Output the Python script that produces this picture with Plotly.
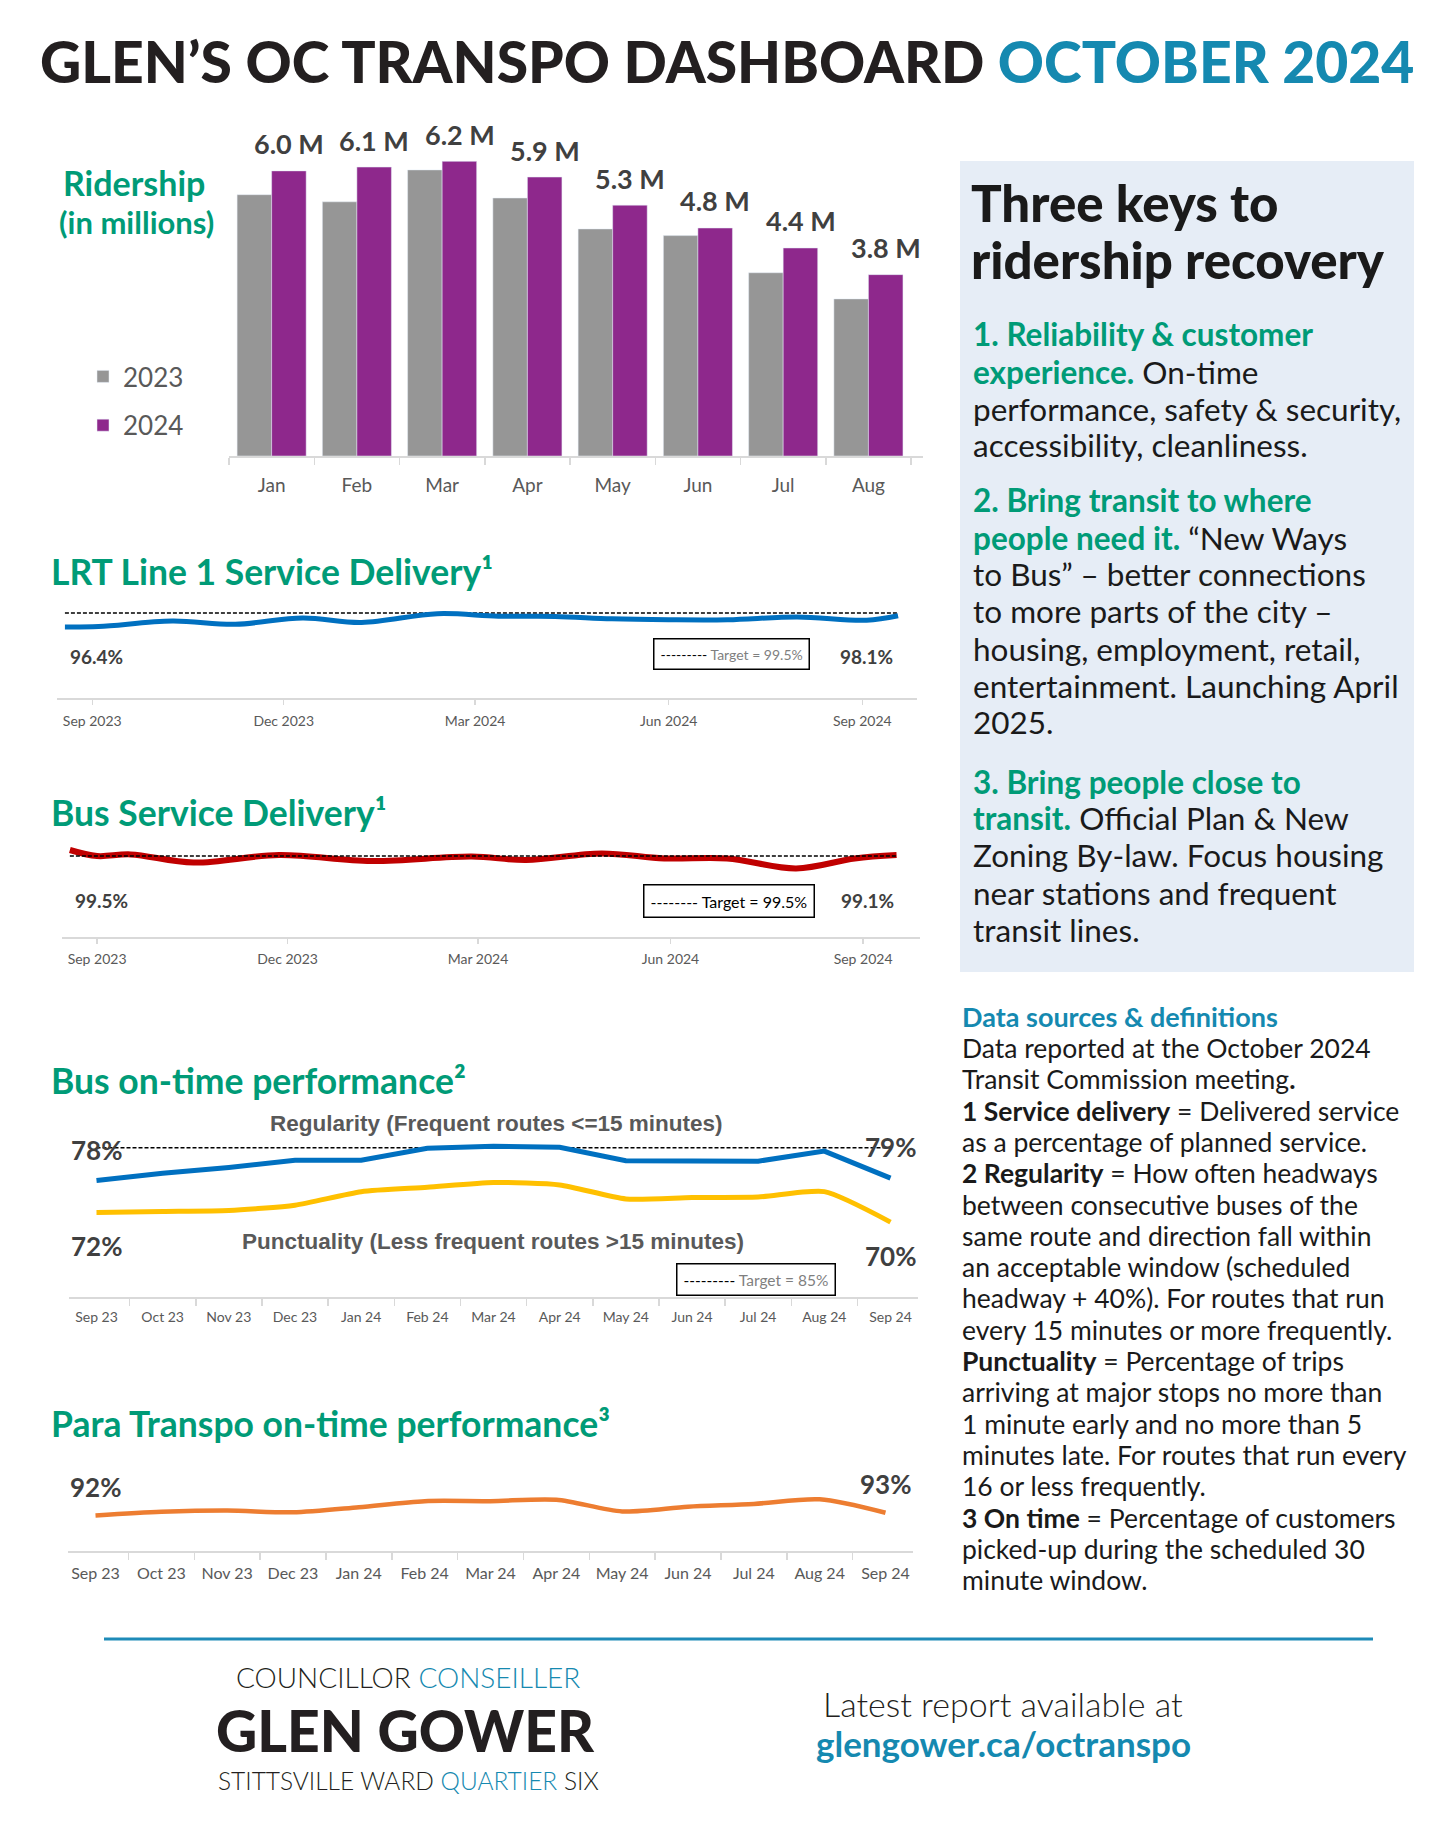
import plotly.graph_objects as go

W, H = 1456, 1832

# ---------------- data ----------------
ride_months = ["Jan", "Feb", "Mar", "Apr", "May", "Jun", "Jul", "Aug"]
ride_2023 = [5.49, 5.34, 6.01, 5.42, 4.77, 4.63, 3.85, 3.30]
ride_2024 = [5.99, 6.07, 6.19, 5.86, 5.27, 4.79, 4.37, 3.81]

service_tick_dates = ["2023-09-01", "2023-12-01", "2024-03-01", "2024-06-01", "2024-09-01"]
service_tick_text = ["Sep 2023", "Dec 2023", "Mar 2024", "Jun 2024", "Sep 2024"]

lrt_dates = ["2023-08-19", "2023-09-04", "2023-10-09", "2023-11-08", "2023-12-10",
             "2024-01-07", "2024-02-12", "2024-03-12", "2024-04-08", "2024-05-05",
             "2024-06-01", "2024-06-29", "2024-08-01", "2024-09-03", "2024-09-18"]
lrt_values = [96.4, 96.5, 97.7, 97.0, 98.4, 97.4, 99.35, 98.8, 98.75, 98.2,
              98.0, 98.0, 98.6, 97.9, 98.9]
lrt_target = 99.5
lrt_end_labels = ["96.4%", "98.1%"]

bus_dates = ["2023-08-19", "2023-09-01", "2023-09-17", "2023-10-17", "2023-11-27",
             "2024-01-10", "2024-02-27", "2024-03-24", "2024-04-29", "2024-05-29",
             "2024-06-28", "2024-07-31", "2024-08-28", "2024-09-17"]
bus_values = [99.8, 99.5, 99.58, 99.17, 99.55, 99.25, 99.47, 99.3, 99.63, 99.38,
              99.38, 98.88, 99.38, 99.55]
bus_target = 99.5
bus_end_labels = ["99.5%", "99.1%"]

otp_months = ["Sep 23", "Oct 23", "Nov 23", "Dec 23", "Jan 24", "Feb 24", "Mar 24",
              "Apr 24", "May 24", "Jun 24", "Jul 24", "Aug 24", "Sep 24"]
regularity = [78.2, 79.7, 80.9, 82.4, 82.4, 84.9, 85.3, 85.1, 82.3, 82.3, 82.2, 84.3, 78.7]
punctuality = [71.6, 71.8, 72.0, 73.1, 75.9, 76.8, 77.8, 77.3, 74.4, 74.7, 74.8, 75.9, 69.6]
otp_target = 85
para_otp = [92.0, 92.8, 93.1, 92.7, 93.8, 95.1, 95.1, 95.4, 92.9, 93.9, 94.5, 95.5, 92.6]

# ---------------- styles ----------------
BODY = "Lato"
GREEN = "#009B77"
BLUE_T = "#1589B0"
DARK = "#404040"
GREY_T = "#595959"
AXC = "#D9D9D9"

def X(p):
    return p / W

def Y(p):
    return 1 - p / H

fig = go.Figure()

def note(text, x, y, size, color="#1a1a1a", weight="normal", family=BODY,
         xanchor="left", yanchor="middle", **kw):
    fig.add_annotation(text=text, x=X(x), y=Y(y), xref="paper", yref="paper",
                       showarrow=False, xanchor=xanchor, yanchor=yanchor,
                       font=dict(family=family, size=size, color=color, weight=weight), **kw)

# ---------------- ridership bars ----------------
BARGAP = 0.19
fig.add_trace(go.Bar(x=ride_months, y=ride_2023, name="2023", marker_color="#969696",
                     legendgroup="a", xaxis="x", yaxis="y"))
fig.add_trace(go.Bar(x=ride_months, y=ride_2024, name="2024", marker_color="#8E288C",
                     legendgroup="b", xaxis="x", yaxis="y"))
r_left, r_right, r_base, r_top = 229, 923, 456, 110
cat_w = (r_right - r_left) / len(ride_months)
bar_off = cat_w * (1 - BARGAP) / 4
for m, v in zip(ride_months, ride_2024):
    fig.add_annotation(x=m, y=v, xref="x", yref="y", text=f"{v:.1f} M", showarrow=False,
                       xshift=bar_off, yshift=27, yanchor="middle",
                       font=dict(family=BODY, size=27, color=DARK, weight="bold"))

# ---------------- LRT ----------------
fig.add_trace(go.Scatter(x=lrt_dates, y=lrt_values, mode="lines", line=dict(color="#0070C0", width=5, shape="spline", smoothing=1.0),
                         showlegend=False, xaxis="x2", yaxis="y2"))
fig.add_shape(type="line", xref="x2", yref="y2", x0=lrt_dates[0], x1=lrt_dates[-1],
              y0=lrt_target, y1=lrt_target, line=dict(color="black", width=1.5, dash="4px,2px"), layer="below")

# ---------------- Bus service ----------------
fig.add_trace(go.Scatter(x=bus_dates, y=bus_values, mode="lines", line=dict(color="#C00000", width=6, shape="spline", smoothing=1.0),
                         showlegend=False, xaxis="x3", yaxis="y3"))
fig.add_shape(type="line", xref="x3", yref="y3", x0=bus_dates[0], x1=bus_dates[-1],
              y0=bus_target, y1=bus_target, line=dict(color="black", width=1.5, dash="4px,2px"), layer="above")

# ---------------- Bus OTP ----------------
fig.add_shape(type="line", xref="x4", yref="y4", x0=otp_months[0], x1=otp_months[-1],
              y0=otp_target, y1=otp_target, line=dict(color="black", width=1.5, dash="4px,2px"), layer="below")
fig.add_trace(go.Scatter(x=otp_months, y=regularity, mode="lines", line=dict(color="#0070C0", width=5),
                         showlegend=False, xaxis="x4", yaxis="y4"))
fig.add_trace(go.Scatter(x=otp_months, y=punctuality, mode="lines", line=dict(color="#FFC000", width=5, shape="spline", smoothing=0.6),
                         showlegend=False, xaxis="x4", yaxis="y4"))
for idx in (0, -1):
    fig.add_annotation(x=otp_months[idx], y=regularity[idx], xref="x4", yref="y4", text=f"{round(regularity[idx])}%",
                       showarrow=False, yshift=31, font=dict(family=BODY, size=26, color=DARK, weight="bold"))
    fig.add_annotation(x=otp_months[idx], y=punctuality[idx], xref="x4", yref="y4", text=f"{round(punctuality[idx])}%",
                       showarrow=False, yshift=-34, font=dict(family=BODY, size=26, color=DARK, weight="bold"))

# ---------------- Para Transpo ----------------
fig.add_trace(go.Scatter(x=otp_months, y=para_otp, mode="lines", line=dict(color="#ED7D31", width=4.5, shape="spline", smoothing=0.8),
                         showlegend=False, xaxis="x5", yaxis="y5"))
for idx in (0, -1):
    fig.add_annotation(x=otp_months[idx], y=para_otp[idx], xref="x5", yref="y5", text=f"{round(para_otp[idx])}%",
                       showarrow=False, yshift=29, font=dict(family=BODY, size=26, color=DARK, weight="bold"))

# ---------------- axes ----------------
def cat_axis(left, right, size, standoff):
    return dict(domain=[X(left), X(right)], type="category", showline=True, linecolor=AXC, linewidth=1.5,
                ticks="outside", tickson="boundaries", ticklen=7, tickcolor=AXC, tickwidth=1.5,
                showgrid=False, zeroline=False, ticklabelstandoff=standoff,
                tickfont=dict(family=BODY, size=size, color=GREY_T), fixedrange=True)

def date_axis(left, right, rng, standoff):
    return dict(domain=[X(left), X(right)], type="date", range=rng, showline=True, linecolor=AXC, linewidth=1.5,
                ticks="outside", ticklen=5, tickcolor=AXC, tickwidth=1.5, showgrid=False, zeroline=False,
                tickvals=service_tick_dates, ticktext=service_tick_text, ticklabelstandoff=standoff,
                tickfont=dict(family=BODY, size=14, color=GREY_T), fixedrange=True)

def val_axis(top, bottom, rng, anchor):
    return dict(domain=[Y(bottom), Y(top)], range=rng, visible=False, showgrid=False, zeroline=False,
                anchor=anchor, fixedrange=True)

fig.update_layout(
    xaxis=dict(cat_axis(r_left, r_right, 19, 12), anchor="y"),
    yaxis=val_axis(r_top, r_base, [0, (r_base - r_top) / 47.6], "x"),
    xaxis2=dict(date_axis(56.5, 917, ["2023-08-15", "2024-09-27"], 5), anchor="y2"),
    yaxis2=val_axis(600, 698, [80.61, 102.39], "x2"),
    xaxis3=dict(date_axis(61.5, 919.6, ["2023-08-15", "2024-09-28"], 4), anchor="y3"),
    yaxis3=val_axis(835, 937, [95.45, 100.55], "x3"),
    xaxis4=dict(cat_axis(69, 918, 14, 7), anchor="y4"),
    yaxis4=val_axis(1100, 1297, [54.1, 94.87], "x4"),
    xaxis5=dict(cat_axis(68, 913, 16, 7), anchor="y5"),
    yaxis5=val_axis(1480, 1551, [84.4, 99.64], "x5"),
)

# ---------------- texts ----------------
# page title
note(f"GLEN’S OC TRANSPO DASHBOARD <span style='color:{BLUE_T}'>OCTOBER 2024</span>", 727, 61, 57,
     color="#231F20", weight=900, family=BODY, xanchor="center")

# ridership labels
note("Ridership", 134, 182, 34, color=GREEN, weight="bold", xanchor="center")
note("(in millions)", 136, 222, 31, color=GREEN, weight="bold", xanchor="center")

# chart titles
note("LRT Line 1 Service Delivery¹", 49, 571, 35.5, color=GREEN, weight="bold")
note("Bus Service Delivery¹", 49, 813, 35.5, color=GREEN, weight="bold")
note("Bus on-time performance²", 49, 1080, 35.5, color=GREEN, weight="bold")
note("Para Transpo on-time performance³", 49, 1423, 35.5, color=GREEN, weight="bold")

# service delivery end labels
for lbl, d in zip(lrt_end_labels, (service_tick_dates[0], service_tick_dates[-1])):
    fig.add_annotation(x=d, y=Y(657), xref="x2", yref="paper", text=lbl, showarrow=False, xshift=4,
                       font=dict(family=BODY, size=19, color=DARK, weight="bold"))
for lbl, d in zip(bus_end_labels, (service_tick_dates[0], service_tick_dates[-1])):
    fig.add_annotation(x=d, y=Y(900), xref="x3", yref="paper", text=lbl, showarrow=False, xshift=4,
                       font=dict(family=BODY, size=19, color=DARK, weight="bold"))

# target boxes
def target_box(text, cx, cy, size, color, dashes):
    fig.add_annotation(text=f"<span style='color:black'>{dashes}</span> {text}", x=X(cx), y=Y(cy), xref="paper", yref="paper",
                       showarrow=False, xanchor="center", yanchor="middle", bordercolor="black", borderwidth=1.5,
                       borderpad=6, bgcolor="white", font=dict(family=BODY, size=size, color=color))

target_box(f"Target = {lrt_target}%", 731, 654, 14, "#7F7F7F", "---------")
target_box(f"Target = {bus_target}%", 729, 901, 16, "black", "--------")
target_box(f"Target = {otp_target}%", 756, 1279, 15.5, "#7F7F7F", "---------")

note("Regularity (Frequent routes <=15 minutes)", 496, 1123, 22.5, color=GREY_T, weight="bold",
     family="Liberation Sans, Arial", xanchor="center")
note("Punctuality (Less frequent routes >15 minutes)", 493, 1241, 22.5, color=GREY_T, weight="bold",
     family="Liberation Sans, Arial", xanchor="center")

# right panel
fig.add_shape(type="rect", xref="paper", yref="paper", x0=X(960), x1=X(1414), y0=Y(972), y1=Y(161),
              fillcolor="#E6EDF6", line=dict(width=0), layer="below")
note("Three keys to", 969, 202, 51, color="#1a1a1a", weight=900)
note("ridership recovery", 969, 259, 51, color="#1a1a1a", weight=900)

panel_lines = [
    ("1. Reliability & customer", "", 334),
    ("experience.", " On-time", 372),
    ("", "performance, safety & security,", 409),
    ("", "accessibility, cleanliness.", 445),
    ("2. Bring transit to where", "", 500),
    ("people need it.", " “New Ways", 538),
    ("", "to Bus” – better connections", 574),
    ("", "to more parts of the city –", 611),
    ("", "housing, employment, retail,", 649),
    ("", "entertainment. Launching April", 686),
    ("", "2025.", 722),
    ("3. Bring people close to", "", 782),
    ("transit.", " Official Plan & New", 818),
    ("", "Zoning By-law. Focus housing", 855),
    ("", "near stations and frequent", 893),
    ("", "transit lines.", 930),
]
for g, b, yy in panel_lines:
    t = (f"<b><span style='color:{GREEN}'>{g}</span></b>" if g else "") + b
    note(t, 971, yy, 31.5, color="#1a1a1a")

# definitions
note("Data sources & definitions", 960, 1017, 27, color=BLUE_T, weight="bold")
def_lines = [
    ("", "Data reported at the October 2024"),
    ("", "Transit Commission meeting<b>.</b>"),
    ("1 Service delivery", " = Delivered service"),
    ("", "as a percentage of planned service."),
    ("2 Regularity", " = How often headways"),
    ("", "between consecutive buses of the"),
    ("", "same route and direction fall within"),
    ("", "an acceptable window (scheduled"),
    ("", "headway + 40%). For routes that run"),
    ("", "every 15 minutes or more frequently."),
    ("Punctuality", " = Percentage of trips"),
    ("", "arriving at major stops no more than"),
    ("", "1 minute early and no more than 5"),
    ("", "minutes late. For routes that run every"),
    ("", "16 or less frequently."),
    ("3 On time", " = Percentage of customers"),
    ("", "picked-up during the scheduled 30"),
    ("", "minute window."),
]
for i, (bpart, rpart) in enumerate(def_lines):
    t = (f"<b>{bpart}</b>" if bpart else "") + rpart
    note(t, 960, 1048 + i * 31.3, 26.5, color="#1a1a1a")

# footer
fig.add_shape(type="line", xref="paper", yref="paper", x0=X(104), x1=X(1373), y0=Y(1639), y1=Y(1639),
              line=dict(color="#1E8BB8", width=3))
note(f"COUNCILLOR <span style='color:{BLUE_T}'>CONSEILLER</span>", 408, 1677, 28, color="#231F20", weight=300, xanchor="center")
note("GLEN GOWER", 405, 1730, 57, color="#231F20", weight=900, xanchor="center")
note(f"STITTSVILLE WARD <span style='color:{BLUE_T}'>QUARTIER</span> SIX", 408, 1780, 24.5, color="#231F20", weight=300, xanchor="center")
note("Latest report available at", 1003, 1703, 34, color="#231F20", weight=300, xanchor="center")
note("glengower.ca/octranspo", 1003, 1743, 35, color=BLUE_T, weight="bold", xanchor="center")

fig.update_layout(
    width=W, height=H, margin=dict(l=0, r=0, t=0, b=0),
    paper_bgcolor="white", plot_bgcolor="rgba(0,0,0,0)",
    barmode="group", bargap=BARGAP, bargroupgap=0,
    showlegend=True,
    legend=dict(x=X(83), y=Y(353), xanchor="left", yanchor="top", traceorder="grouped",
                tracegroupgap=12, itemwidth=30, bgcolor="rgba(0,0,0,0)",
                font=dict(family=BODY, size=26, color=GREY_T)),
    font=dict(family=BODY),
    hovermode=False,
)

fig.write_html("out.html", config={"displayModeBar": False, "staticPlot": True},
               post_script="document.body.style.margin='0';")
